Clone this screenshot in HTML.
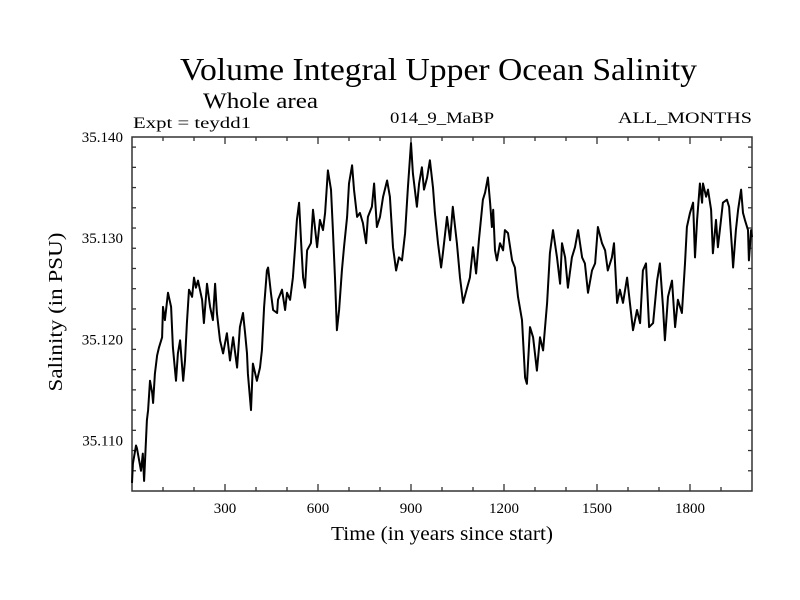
<!DOCTYPE html>
<html><head><meta charset="utf-8"><style>
body{margin:0;background:#fff}
svg{display:block;font-family:"Liberation Serif",serif}
</style></head><body>
<svg id="chart" width="800" height="600" viewBox="0 0 800 600">
<rect width="800" height="600" fill="#fff"/>
<text x="180" y="80" font-size="32" textLength="517" lengthAdjust="spacingAndGlyphs">Volume Integral Upper Ocean Salinity</text>
<text x="203" y="108" font-size="22" textLength="115" lengthAdjust="spacingAndGlyphs">Whole area</text>
<text x="133" y="128" font-size="16" textLength="118" lengthAdjust="spacingAndGlyphs">Expt = teydd1</text>
<text x="390" y="123" font-size="16" textLength="104" lengthAdjust="spacingAndGlyphs">014_9_MaBP</text>
<text x="618" y="123" font-size="16" textLength="134" lengthAdjust="spacingAndGlyphs">ALL_MONTHS</text>
<g id="axes"></g>
<path id="series" fill="none" stroke="#000" stroke-width="2" stroke-linejoin="round"/>
<text x="0" y="0" font-size="20" text-anchor="middle" textLength="159" lengthAdjust="spacingAndGlyphs" transform="translate(62,312) rotate(-90)">Salinity (in PSU)</text>
<text x="331" y="540" font-size="20" textLength="222" lengthAdjust="spacingAndGlyphs">Time (in years since start)</text>
</svg>
<script>
const years=[0,3,13,16,29,35,39,48,52,58,65,68,74,81,87,97,100,106,116,126,132,142,148,155,165,171,177,184,194,200,206,213,226,232,242,252,261,268,274,284,294,306,316,326,339,348,358,365,371,374,384,390,403,413,419,426,435,439,448,455,468,471,484,494,500,510,519,526,532,539,545,552,558,565,577,584,590,597,606,616,623,632,642,648,655,661,668,677,684,694,700,710,716,726,735,745,755,761,774,781,790,800,810,823,832,842,852,861,871,881,890,900,906,919,926,935,942,952,961,971,977,987,997,1003,1016,1026,1035,1048,1058,1068,1081,1090,1100,1110,1119,1132,1139,1148,1155,1161,1165,1171,1177,1187,1197,1203,1213,1226,1235,1245,1258,1268,1274,1284,1294,1306,1316,1326,1339,1348,1358,1371,1381,1387,1397,1406,1419,1429,1439,1452,1461,1471,1484,1494,1503,1516,1526,1535,1548,1555,1565,1574,1584,1597,1606,1616,1629,1639,1648,1658,1668,1681,1694,1703,1713,1719,1729,1742,1752,1761,1774,1784,1790,1800,1810,1816,1823,1832,1839,1842,1852,1858,1868,1874,1884,1890,1900,1906,1919,1926,1935,1939,1948,1955,1965,1971,1977,1987,1990,1997,2000];
const salinity=[35.1058,35.1077,35.1095,35.1092,35.1070,35.1087,35.1060,35.1120,35.1130,35.1159,35.1147,35.1137,35.1166,35.1184,35.1192,35.1202,35.1232,35.1219,35.1246,35.1232,35.1192,35.1159,35.1186,35.1199,35.1159,35.1179,35.1216,35.1249,35.1242,35.1261,35.1251,35.1258,35.1239,35.1216,35.1255,35.1232,35.1219,35.1255,35.1226,35.1199,35.1186,35.1206,35.1179,35.1202,35.1172,35.1212,35.1226,35.1206,35.1186,35.1166,35.1130,35.1176,35.1159,35.1172,35.1189,35.1232,35.1268,35.1271,35.1246,35.1229,35.1226,35.1239,35.1249,35.1229,35.1246,35.1239,35.1261,35.1291,35.1318,35.1335,35.1298,35.1261,35.1251,35.1288,35.1295,35.1328,35.1311,35.1291,35.1318,35.1308,35.1325,35.1367,35.1348,35.1308,35.1258,35.1209,35.1229,35.1268,35.1291,35.1321,35.1354,35.1372,35.1348,35.1321,35.1325,35.1315,35.1295,35.1321,35.1331,35.1354,35.1311,35.1321,35.1341,35.1357,35.1341,35.1291,35.1268,35.1281,35.1278,35.1305,35.1350,35.1394,35.1364,35.1331,35.1354,35.1370,35.1348,35.1360,35.1377,35.1350,35.1325,35.1295,35.1271,35.1285,35.1321,35.1298,35.1331,35.1295,35.1261,35.1236,35.1251,35.1261,35.1291,35.1265,35.1298,35.1338,35.1345,35.1360,35.1335,35.1311,35.1328,35.1288,35.1278,35.1295,35.1288,35.1308,35.1305,35.1278,35.1271,35.1242,35.1219,35.1162,35.1156,35.1212,35.1202,35.1169,35.1202,35.1189,35.1236,35.1285,35.1308,35.1281,35.1255,35.1295,35.1281,35.1251,35.1281,35.1291,35.1308,35.1281,35.1275,35.1246,35.1268,35.1275,35.1311,35.1295,35.1288,35.1268,35.1281,35.1295,35.1236,35.1249,35.1236,35.1261,35.1236,35.1209,35.1229,35.1216,35.1268,35.1275,35.1212,35.1216,35.1258,35.1275,35.1232,35.1199,35.1242,35.1258,35.1212,35.1239,35.1226,35.1275,35.1311,35.1325,35.1335,35.1281,35.1318,35.1354,35.1335,35.1354,35.1341,35.1348,35.1328,35.1285,35.1318,35.1291,35.1318,35.1335,35.1338,35.1331,35.1291,35.1271,35.1308,35.1328,35.1348,35.1325,35.1318,35.1308,35.1278,35.1308,35.1301];
const yTickLabels=["35.110","35.120","35.130","35.140"];
const yTickValues=[35.110,35.120,35.130,35.140];
const xTickLabels=["300","600","900","1200","1500","1800"];
const xTickValues=[300,600,900,1200,1500,1800];

const L=132,R=752,T=137,B=491,X0=0,X1=2000,Y0=35.105,Y1=35.140;
function sx(v){return L+(v-X0)/(X1-X0)*(R-L);}
function sy(v){return B-(v-Y0)/(Y1-Y0)*(B-T);}
const NS="http://www.w3.org/2000/svg";
const ax=document.getElementById('axes');
function ln(x1,y1,x2,y2,name){const e=document.createElementNS(NS,'line');e.setAttribute('x1',x1);e.setAttribute('y1',y1);e.setAttribute('x2',x2);e.setAttribute('y2',y2);e.setAttribute('stroke','#333');e.setAttribute('stroke-width','1.3');


ax.appendChild(e);return e;}
const frame=document.createElementNS(NS,'rect');
frame.setAttribute('x',L);frame.setAttribute('y',T);frame.setAttribute('width',R-L);frame.setAttribute('height',B-T);
frame.setAttribute('fill','none');frame.setAttribute('stroke','#333');frame.setAttribute('stroke-width','1.5');


ax.appendChild(frame);
for(let v=100;v<X1;v+=100){const x=sx(v);const major=v%300===0;const len=major?7:4;
ln(x,B,x,B-len,'x-tick');ln(x,T,x,T+len,'x-tick-top');}
for(let i=1;i<18;i++){const v=Y0+i*0.002;const y=sy(v);const major=Math.abs((v*1000)%10)<0.01||Math.abs((v*1000)%10-10)<0.01;const len=major?7:4;
ln(L,y,L+len,y,'y-tick');ln(R,y,R-len,y,'y-tick-right');}
xTickLabels.forEach((t,i)=>{const e=document.createElementNS(NS,'text');e.setAttribute('x',sx(xTickValues[i]));e.setAttribute('y',513);e.setAttribute('font-size','15');e.setAttribute('text-anchor','middle');e.textContent=t;


ax.appendChild(e);});
yTickLabels.forEach((t,i)=>{const e=document.createElementNS(NS,'text');e.setAttribute('x',123);e.setAttribute('y',sy(yTickValues[i])+5);e.setAttribute('font-size','15');e.setAttribute('text-anchor','end');e.textContent=t;


ax.appendChild(e);});
let d='';years.forEach((yr,i)=>{d+=(i?'L':'M')+sx(yr).toFixed(1)+','+sy(salinity[i]).toFixed(1);});
document.getElementById('series').setAttribute('d',d);
</script>
</body></html>
